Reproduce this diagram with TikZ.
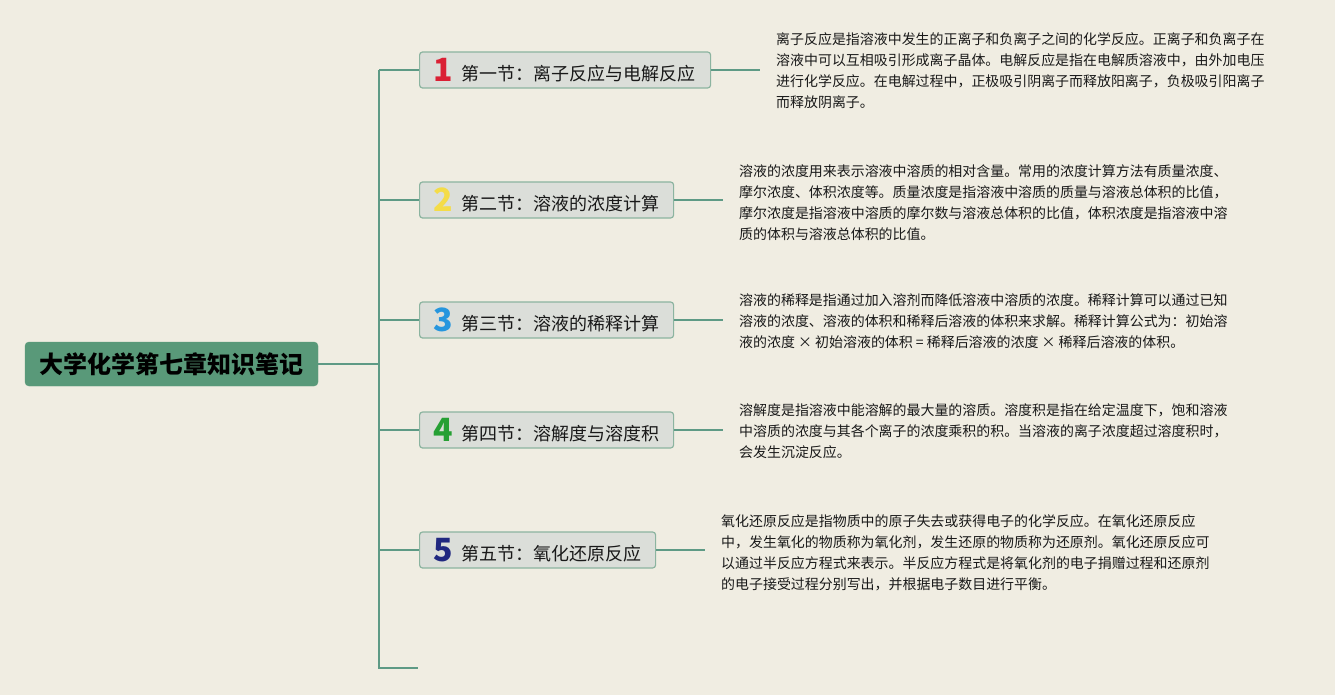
\documentclass[tikz,border=0pt]{standalone}
\usepackage{fontspec}
\newfontfamily\cjk{Noto Sans CJK SC}
\definecolor{bg}{RGB}{240,237,226}
\definecolor{linec}{RGB}{94,154,133}
\definecolor{rootc}{RGB}{89,153,121}
\definecolor{boxfill}{RGB}{219,222,217}
\definecolor{boxdraw}{RGB}{140,180,160}
\definecolor{n1}{RGB}{218,32,52}
\definecolor{n2}{RGB}{244,220,72}
\definecolor{n3}{RGB}{38,150,222}
\definecolor{n4}{RGB}{38,160,52}
\definecolor{n5}{RGB}{32,40,128}
\definecolor{txt}{RGB}{25,25,25}
\tikzset{
  conn/.style={draw=linec,line width=2.6pt},
  rootbox/.style={fill=rootc,draw=rootc,rounded corners=4pt,minimum width=293pt,minimum height=44pt,inner sep=0pt,font=\cjk\fontsize{24}{28}\selectfont\bfseries,text=black},
  secbox/.style={fill=boxfill,draw=boxdraw,line width=1.2pt,rounded corners=3pt,minimum height=36pt,inner xsep=0pt,inner ysep=0pt,align=left,font=\cjk\fontsize{18}{20}\selectfont,text=txt,anchor=west},
  para/.style={anchor=north west,inner sep=0pt,align=left,font=\cjk\fontsize{13.95}{21}\selectfont,text=txt},
}
\newcommand{\secnum}[2]{\makebox[33pt][r]{\raisebox{-1pt}{\fontsize{32}{30}\selectfont\bfseries\color{#1}#2}}\hspace{9pt}}
\begin{document}
\begin{tikzpicture}[x=1pt,y=-1pt]
\useasboundingbox[fill=bg] (0,0) rectangle (1335,695);
% root
\node[rootbox] (root) at (171.5,364) {大学化学第七章知识笔记};
% trunk
\coordinate (tTop) at (379,70);
\coordinate (tMid) at (379,364);
\coordinate (tBot) at (379,668);
\coordinate (bEnd) at (418,668);
% sections
\node[secbox,text width=291pt] (s1) at (419,70) {\secnum{n1}{1}第一节：离子反应与电解反应};
\node[secbox,text width=254pt] (s2) at (419,200) {\secnum{n2}{2}第二节：溶液的浓度计算};
\node[secbox,text width=254pt] (s3) at (419,320) {\secnum{n3}{3}第三节：溶液的稀释计算};
\node[secbox,text width=254pt] (s4) at (419,430) {\secnum{n4}{4}第四节：溶解度与溶度积};
\node[secbox,text width=236pt] (s5) at (419,550) {\secnum{n5}{5}第五节：氧化还原反应};
% paragraphs
\node[para] (p1) at (776,32) {离子反应是指溶液中发生的正离子和负离子之间的化学反应。正离子和负离子在\\溶液中可以互相吸引形成离子晶体。电解反应是指在电解质溶液中，由外加电压\\进行化学反应。在电解过程中，正极吸引阴离子而释放阳离子，负极吸引阳离子\\而释放阴离子。};
\node[para] (p2) at (739,164) {溶液的浓度用来表示溶液中溶质的相对含量。常用的浓度计算方法有质量浓度、\\摩尔浓度、体积浓度等。质量浓度是指溶液中溶质的质量与溶液总体积的比值，\\摩尔浓度是指溶液中溶质的摩尔数与溶液总体积的比值，体积浓度是指溶液中溶\\质的体积与溶液总体积的比值。};
\node[para] (p3) at (739,293) {溶液的稀释是指通过加入溶剂而降低溶液中溶质的浓度。稀释计算可以通过已知\\溶液的浓度、溶液的体积和稀释后溶液的体积来求解。稀释计算公式为：初始溶\\液的浓度 × 初始溶液的体积 = 稀释后溶液的浓度 × 稀释后溶液的体积。};
\node[para] (p4) at (739,403) {溶解度是指溶液中能溶解的最大量的溶质。溶度积是指在给定温度下，饱和溶液\\中溶质的浓度与其各个离子的浓度乘积的积。当溶液的离子浓度超过溶度积时，\\会发生沉淀反应。};
\node[para] (p5) at (721,514) {氧化还原反应是指物质中的原子失去或获得电子的化学反应。在氧化还原反应\\中，发生氧化的物质称为氧化剂，发生还原的物质称为还原剂。氧化还原反应可\\以通过半反应方程式来表示。半反应方程式是将氧化剂的电子捐赠过程和还原剂\\的电子接受过程分别写出，并根据电子数目进行平衡。};
\coordinate (e1) at (760,70);
\coordinate (e2) at (723,200);
\coordinate (e3) at (723,320);
\coordinate (e4) at (723,430);
\coordinate (e5) at (705,550);
% connectors
\draw[conn] (root.east) -- (tMid);
\draw[conn] (tTop) -- (tBot) -- (bEnd);
\foreach \i in {1,...,5}{
  \draw[conn] (tTop |- s\i.west) -- (s\i.west);
  \draw[conn] (s\i.east) -- (e\i);
}
\end{tikzpicture}
\end{document}
